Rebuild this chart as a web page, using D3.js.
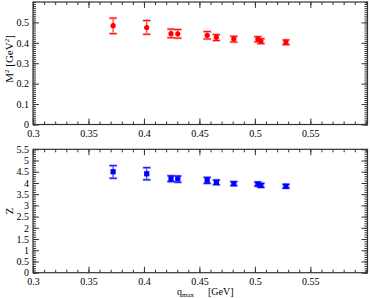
<!DOCTYPE html>
<html><head><meta charset="utf-8">
<script src="https://cdn.jsdelivr.net/npm/d3@7"></script>
<style>body{margin:0;background:#fff}svg{display:block}text{font-family:"Liberation Serif","Times New Roman",serif;fill:#000}</style>
</head><body><svg id="c" width="370" height="298"></svg>
<script>
const qmax = [0.3722, 0.4025, 0.4244, 0.4305, 0.457, 0.4653, 0.481, 0.5027, 0.5054, 0.528];
const m2   = [0.484, 0.475, 0.445, 0.444, 0.437, 0.427, 0.419, 0.418, 0.408, 0.403];
const m2Lo = [0.445, 0.442, 0.425, 0.423, 0.419, 0.411, 0.404, 0.405, 0.396, 0.391];
const m2Hi = [0.521, 0.509, 0.467, 0.465, 0.455, 0.440, 0.432, 0.430, 0.420, 0.414];
const zval = [4.50, 4.41, 4.19, 4.18, 4.12, 4.03, 3.97, 3.95, 3.89, 3.85];
const zLo  = [4.21, 4.14, 4.06, 4.03, 3.98, 3.92, 3.88, 3.86, 3.80, 3.77];
const zHi  = [4.77, 4.68, 4.32, 4.31, 4.25, 4.13, 4.06, 4.04, 3.98, 3.94];
const xTicks = [0.3, 0.35, 0.4, 0.45, 0.5, 0.55];
const m2Ticks = [0, 0.1, 0.2, 0.3, 0.4, 0.5];
const zTicks = [0, 0.5, 1, 1.5, 2, 2.5, 3, 3.5, 4, 4.5, 5, 5.5];

const FONT = "'Liberation Serif','Times New Roman',serif";
const svg = d3.select("#c");
const L = 33, R = 367.5;
const x = d3.scaleLinear().domain([0.3, 0.6015]).range([L, R]);

function panel(cfg) {
  const y = d3.scaleLinear().domain(cfg.ydom).range([cfg.bottom, cfg.top]);
  const g = svg.append("g");
  const minorX = d3.range(0.3, 0.6001, 0.01);
  const minorY = d3.range(cfg.ydom[0], cfg.ydom[1] + 1e-9, cfg.minorStep);
  const ax = g.append("g").attr("transform", `translate(0,${cfg.bottom})`)
    .call(d3.axisBottom(x).tickValues(xTicks).tickSizeInner(-6).tickSizeOuter(0).tickPadding(3).tickFormat(d3.format("")));
  ax.selectAll("text").attr("font-size", 10).attr("dy", "0.9em");
  g.append("g").attr("transform", `translate(0,${cfg.bottom})`)
    .call(d3.axisBottom(x).tickValues(minorX).tickSizeInner(-3).tickSizeOuter(0).tickFormat(""));
  g.append("g").attr("transform", `translate(0,${cfg.top})`)
    .call(d3.axisTop(x).tickValues(xTicks).tickSizeInner(-6).tickSizeOuter(0).tickFormat(""));
  g.append("g").attr("transform", `translate(0,${cfg.top})`)
    .call(d3.axisTop(x).tickValues(minorX).tickSizeInner(-3).tickSizeOuter(0).tickFormat(""));
  const ay = g.append("g").attr("transform", `translate(${L},0)`)
    .call(d3.axisLeft(y).tickValues(cfg.ticks).tickSizeInner(-6).tickSizeOuter(0).tickPadding(4).tickFormat(d3.format("")));
  ay.selectAll("text").attr("font-size", 10).attr("x", -4);
  g.append("g").attr("transform", `translate(${L},0)`)
    .call(d3.axisLeft(y).tickValues(minorY).tickSizeInner(-3).tickSizeOuter(0).tickFormat(""));
  g.append("g").attr("transform", `translate(${R},0)`)
    .call(d3.axisRight(y).tickValues(cfg.ticks).tickSizeInner(-6).tickSizeOuter(0).tickFormat(""));
  g.append("g").attr("transform", `translate(${R},0)`)
    .call(d3.axisRight(y).tickValues(minorY).tickSizeInner(-3).tickSizeOuter(0).tickFormat(""));
  g.selectAll("g").attr("font-family", FONT);
  g.selectAll(".domain").remove();
  g.selectAll(".tick line").attr("stroke", "#333");
  g.append("rect").attr("x", L).attr("y", cfg.top).attr("width", R - L).attr("height", cfg.bottom - cfg.top)
    .attr("fill", "none").attr("stroke", "#333").attr("stroke-width", 1.2);
  const eb = g.append("g");
  const idx = d3.range(qmax.length);
  eb.selectAll("line.stem").data(idx).join("line")
    .attr("x1", i => x(qmax[i])).attr("x2", i => x(qmax[i]))
    .attr("y1", i => y(cfg.lo[i])).attr("y2", i => y(cfg.hi[i]))
    .attr("stroke", cfg.color).attr("stroke-width", 1);
  for (const arr of [cfg.lo, cfg.hi]) {
    eb.selectAll(null).data(idx).join("line")
      .attr("x1", i => x(qmax[i]) - 4).attr("x2", i => x(qmax[i]) + 4)
      .attr("y1", i => y(arr[i])).attr("y2", i => y(arr[i]))
      .attr("stroke", cfg.light).attr("stroke-width", 2.5);
    eb.selectAll(null).data(idx).join("line")
      .attr("x1", i => x(qmax[i]) - 3.5).attr("x2", i => x(qmax[i]) + 3.5)
      .attr("y1", i => y(arr[i])).attr("y2", i => y(arr[i]))
      .attr("stroke", cfg.color).attr("stroke-width", 1);
  }
  if (cfg.shape === "circle") {
    eb.selectAll("circle").data(idx).join("circle")
      .attr("cx", i => x(qmax[i])).attr("cy", i => y(cfg.v[i])).attr("r", 2.6).attr("fill", cfg.color);
  } else {
    eb.selectAll("rect").data(idx).join("rect")
      .attr("x", i => x(qmax[i]) - 2.6).attr("y", i => y(cfg.v[i]) - 2.6)
      .attr("width", 5.2).attr("height", 5.2).attr("fill", cfg.color);
  }
  return y;
}

panel({ydom: [0, 0.6], top: 2, bottom: 124.5, ticks: m2Ticks, minorStep: 0.01,
  v: m2, lo: m2Lo, hi: m2Hi, color: "#ff0000", light: "#ffa0a0", shape: "circle"});
panel({ydom: [0, 5.5], top: 149.3, bottom: 272.7, ticks: zTicks, minorStep: 0.1,
  v: zval, lo: zLo, hi: zHi, color: "#0000ff", light: "#a0a0ff", shape: "square"});

const yl1 = svg.append("text").attr("transform", "translate(13,59) rotate(-90)")
  .attr("text-anchor", "middle").attr("font-size", 11).attr("font-family", FONT);
yl1.append("tspan").text("M");
yl1.append("tspan").attr("font-size", 7).attr("dy", -4.5).text("2");
yl1.append("tspan").attr("dy", 4.5).text("  [GeV");
yl1.append("tspan").attr("font-size", 7).attr("dy", -4.5).text("2");
yl1.append("tspan").attr("dy", 4.5).text("]");
svg.append("text").attr("transform", "translate(13,211) rotate(-90)")
  .attr("text-anchor", "middle").attr("font-size", 11).attr("font-family", FONT).text("Z");
const xl = svg.append("text").attr("x", 177).attr("y", 295).attr("font-size", 10).attr("font-family", FONT);
xl.append("tspan").text("q");
xl.append("tspan").attr("font-size", 7).attr("dy", 2).text("max");
svg.append("text").attr("x", 208).attr("y", 295).attr("font-size", 10).attr("font-family", FONT).text("[GeV]");
</script></body></html>
